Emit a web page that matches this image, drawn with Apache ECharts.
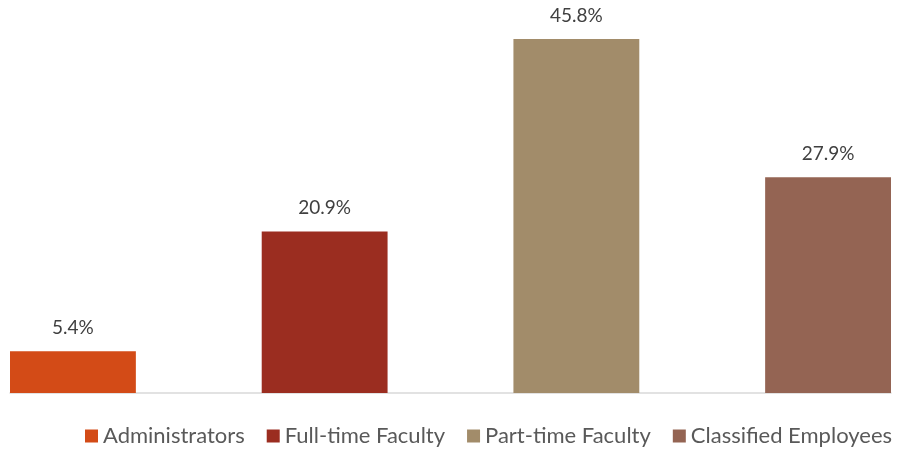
<!DOCTYPE html>
<html>
<head>
<meta charset="utf-8">
<script src="https://cdn.jsdelivr.net/npm/echarts@6/dist/echarts.min.js"></script>
<style>
  html, body { margin: 0; padding: 0; background: #fff; }
  #chart { width: 898px; height: 457px; }
</style>
</head>
<body>
<div id="chart"></div>
<script>
// staff groups and their share (%)
var groups = ["Administrators", "Full-time Faculty", "Part-time Faculty", "Classified Employees"];
var shares = [5.4, 20.9, 45.8, 27.9];
var colors = ["#D34B17", "#9B2D20", "#A28C6A", "#946453"];

var chart = echarts.init(document.getElementById("chart"));

var series = groups.map(function (name, i) {
  return {
    name: name,
    type: "bar",
    barGap: "100%",
    barCategoryGap: "0%",
    data: [shares[i]],
    itemStyle: { color: colors[i] },
    label: {
      show: true,
      position: "top",
      distance: 14,
      formatter: function (p) { return p.value.toFixed(1) + "%"; },
      color: "#404040",
      fontSize: 19,
      fontFamily: "Lato"
    }
  };
});

chart.setOption({
  animation: false,
  grid: { left: 10, right: 7, top: 6.5, bottom: 64 },
  legend: {
    bottom: 5,
    left: 80,
    icon: "rect",
    itemWidth: 13,
    itemHeight: 13,
    itemGap: 22,
    textStyle: { color: "#595959", fontSize: 22, fontFamily: "Lato" },
    data: groups
  },
  xAxis: {
    type: "category",
    data: [""],
    axisLine: { lineStyle: { color: "#d9d9d9", width: 1.5 } },
    axisTick: { show: false },
    axisLabel: { show: false }
  },
  yAxis: {
    type: "value",
    min: 0,
    max: 50,
    show: false,
    splitLine: { show: false }
  },
  series: series
});
</script>
</body>
</html>
